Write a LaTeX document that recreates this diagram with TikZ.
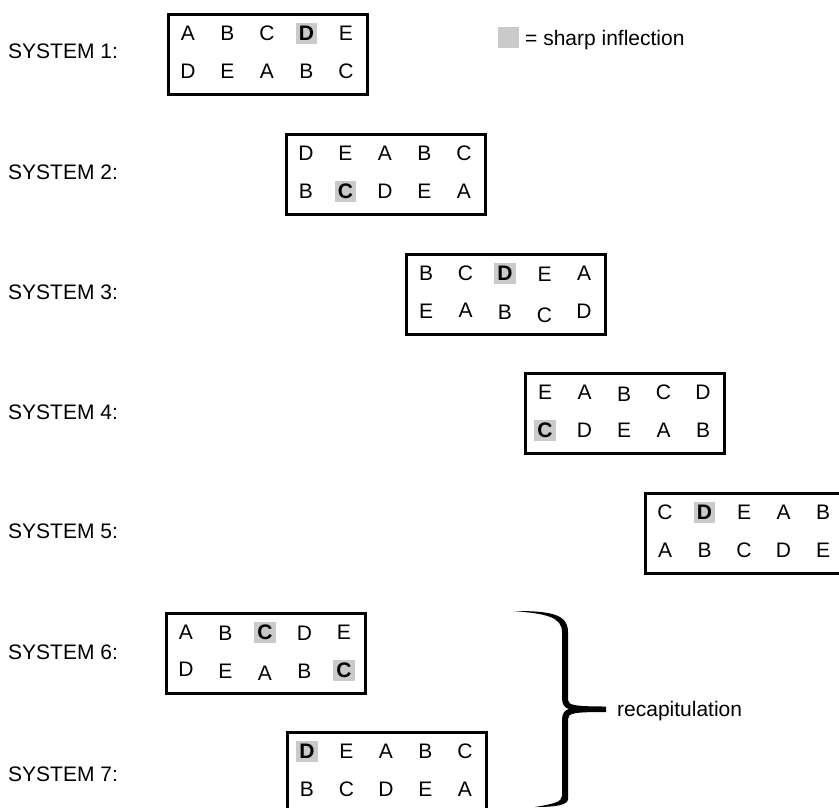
\documentclass[tikz,border=0pt]{standalone}
\usepackage{fontspec}
\setmainfont{Liberation Sans}
\definecolor{hlgray}{HTML}{CACACA}
% One system: a framed box holding two rows of five letters.
% #1 name, #2 x, #3 y (top-left corner), #4 upper row, #5 lower row.
% Each entry is letter/highlight/vertical nudge.
\newcommand\sysbox[5]{%
  \node[frame] (#1) at (#2,#3) {};
  \foreach \l/\h/\d [count=\i] in {#4}
    \node[cell\h] (#1u\i) at ({#2+21+39.5*(\i-1)},{#3+20+\d}) {\l};
  \foreach \l/\h/\d [count=\i] in {#5}
    \node[cell\h] (#1l\i) at ({#2+21+39.5*(\i-1)},{#3+58+\d}) {\l};
}
\begin{document}
\begin{tikzpicture}[x=1pt,y=-1pt,
  txt/.style={font=\fontsize{21}{24}\selectfont, inner sep=0pt, text height=15pt, text depth=0pt},
  frame/.style={draw, line width=2.6pt, minimum width=199pt, minimum height=80pt,
    inner sep=0pt, anchor=north west},
  cell0/.style={txt, anchor=center},
  cell1/.style={txt, anchor=center, fill=hlgray, inner sep=3pt, minimum width=21pt,
    font=\fontsize{21}{24}\selectfont\bfseries},
  lab/.style={txt, anchor=west},
]
\useasboundingbox (0,0) rectangle (839,807);

% row labels
\node[lab] (l1) at (8,51)  {SYSTEM 1:};
\node[lab] (l2) at (8,172) {SYSTEM 2:};
\node[lab] (l3) at (8,292) {SYSTEM 3:};
\node[lab] (l4) at (8,412) {SYSTEM 4:};
\node[lab] (l5) at (8,531) {SYSTEM 5:};
\node[lab] (l6) at (8,652) {SYSTEM 6:};
\node[lab] (l7) at (8,774) {SYSTEM 7:};

% the systems
\sysbox{s1}{167}{13}{A/0/0,B/0/0,C/0/0,D/1/0,E/0/0}{D/0/0,E/0/0,A/0/0,B/0/0,C/0/0}
\sysbox{s2}{285}{133}{D/0/0,E/0/0,A/0/0,B/0/0,C/0/0}{B/0/0,C/1/0,D/0/0,E/0/0,A/0/0}
\sysbox{s3}{405}{253}{B/0/0,C/0/0,D/1/0,E/0/1,A/0/0}{E/0/0,A/0/-1,B/0/1,C/0/4,D/0/0}
\sysbox{s4}{524}{372}{E/0/0,A/0/0,B/0/2,C/0/0,D/0/0}{C/1/0,D/0/0,E/0/0,A/0/0,B/0/0}
\sysbox{s5}{644}{492}{C/0/0,D/1/0,E/0/0,A/0/0,B/0/0}{A/0/0,B/0/0,C/0/0,D/0/0,E/0/0}
\sysbox{s6}{165}{612}{A/0/0,B/0/1,C/1/0,D/0/1,E/0/0}{D/0/-1,E/0/1,A/0/3,B/0/1,C/1/0}
\sysbox{s7}{286}{731}{D/1/0,E/0/0,A/0/0,B/0/0,C/0/0}{B/0/0,C/0/0,D/0/0,E/0/0,A/0/0}

% legend
\node[fill=hlgray, minimum width=21pt, minimum height=21pt, inner sep=0pt] (key) at (508.5,37.5) {};
\node[lab] (keytext) at (525,38) {= sharp inflection};

% brace grouping the last two systems
\fill (513,611) .. controls (548,611) and (568,613) .. (568,632) -- (568,700)
  .. controls (568,705) and (574,706.5) .. (606,706.5) -- (606,712)
  .. controls (574,712) and (568,713) .. (568,719) -- (568,799)
  .. controls (568,805) and (556,807) .. (535,807)
  .. controls (553,804) and (562,802) .. (562,796) -- (562,720)
  .. controls (562,713) and (565,710) .. (569,709)
  .. controls (565,708) and (562,705) .. (562,698) -- (562,632)
  .. controls (562,617) and (546,613.5) .. (513,611) -- cycle;
\node[lab] (recap) at (617,709) {recapitulation};
\end{tikzpicture}
\end{document}
